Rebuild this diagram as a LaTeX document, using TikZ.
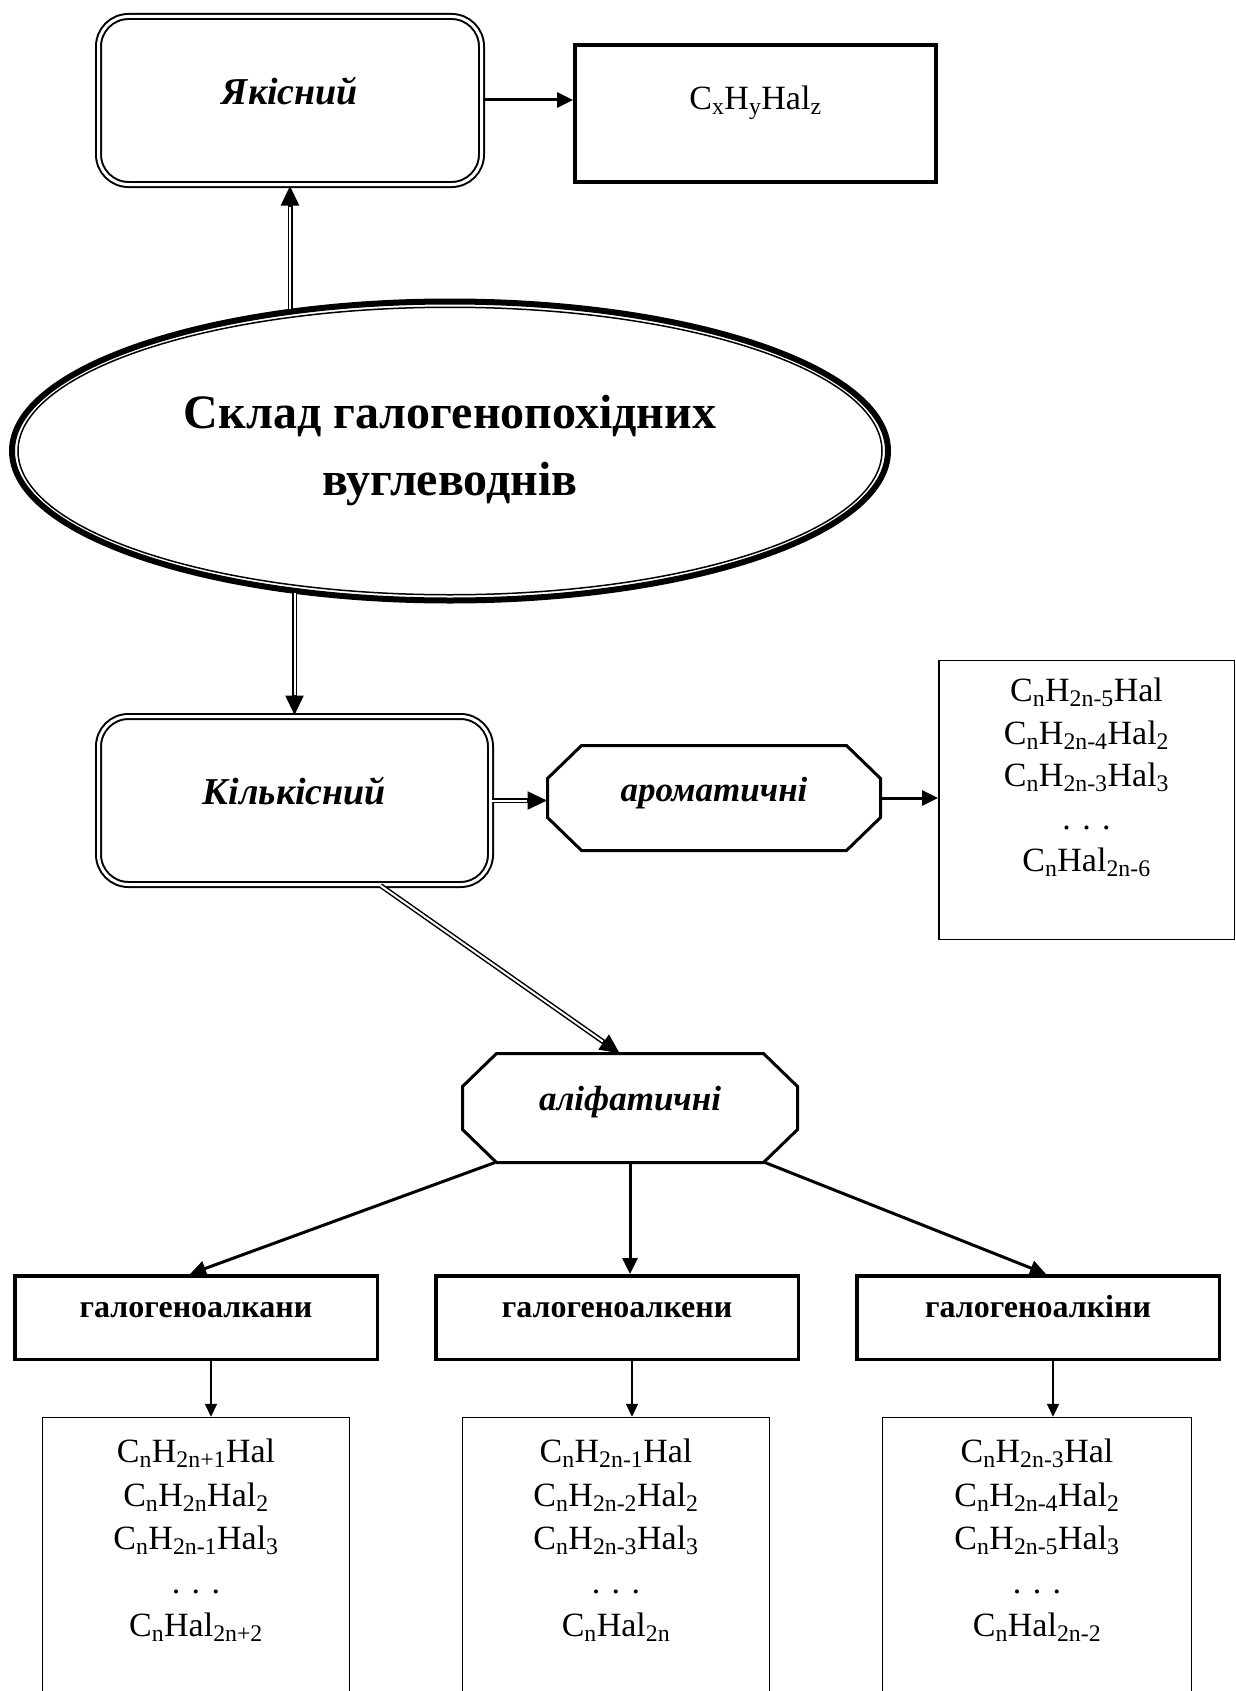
\RequirePackage{fix-cm}
\documentclass[tikz,border=0pt]{standalone}
\usepackage{fontspec}
\setmainfont{Liberation Serif}
\usetikzlibrary{arrows.meta,positioning,shapes.geometric}
\newcommand{\idx}[1]{\textsubscript{#1}}
\tikzset{dbox/.style={draw,rounded corners=30pt,double,double distance=3pt,line width=2pt,
        text height=24pt,text depth=16pt,font=\fontsize{38}{44}\selectfont\bfseries\itshape},
    oct/.style={inner sep=0pt,outer sep=0pt,text height=23pt,text depth=18pt,
        font=\fontsize{35}{40}\selectfont\bfseries\itshape},
    hbox/.style={draw,line width=3.5pt,minimum height=83.5pt,text height=22pt,text depth=22pt,
        font=\fontsize{32}{36}\selectfont\bfseries},
    lbox/.style={draw,line width=1.5pt},
    ltext/.style={align=center,inner sep=0pt,font=\fontsize{34}{43.5}\selectfont},
    % hollow shaft, solid head
    darr/.style={line width=5pt,-{Triangle[length=20pt,width=17pt]},
        postaction={draw=white,line width=2pt,-,shorten >=21pt}},
    arr/.style={line width=3pt,-{Triangle[length=16pt,width=15pt]}},
    sarr/.style={line width=2pt,-{Triangle[length=13pt,width=12pt]}}}
\begin{document}
\begin{tikzpicture}[x=1pt,y=-1pt]
    \path[use as bounding box,clip] (0,0) rectangle (1236,1691);
    % top part
    \node[dbox,minimum width=383pt,minimum height=168pt] (yak) at (290,100.5) {Якісний};
    \node[draw,line width=4pt,minimum width=361pt,minimum height=137pt,text height=24pt,text depth=32pt,
        font=\fontsize{34}{40}\selectfont] (cx) at (755.5,113.5) {C\idx{x}H\idx{y}Hal\idx{z}};
    \node[ellipse,draw,line width=6pt,minimum width=876pt,minimum height=299pt,align=center,
        font=\fontsize{48}{67}\selectfont\bfseries] (ell) at (450,451)
        {Склад галогенопохідних\\вуглеводнів};
    \draw[line width=1.5pt] (ell.center) ellipse [x radius=432pt,y radius=143.75pt];
    \node[dbox,minimum width=392pt,minimum height=168pt] (kil) at (294.5,800.5) {Кількісний};
    % octagons
    \node[oct,minimum width=333pt,minimum height=105pt,text depth=16pt] (arom) at (714,798) {ароматичні};
    \node[oct,minimum width=335pt,minimum height=109pt] (alif) at (630,1108) {аліфатичні};
    \foreach \n in {arom,alif}
      \draw[line width=3pt] ([xshift=34pt]\n.north west) -- ([xshift=-34pt]\n.north east)
        -- ([yshift=-33pt]\n.north east) -- ([yshift=33pt]\n.south east)
        -- ([xshift=-34pt]\n.south east) -- ([xshift=34pt]\n.south west)
        -- ([yshift=33pt]\n.south west) -- ([yshift=-33pt]\n.north west) -- cycle;
    \node[lbox,minimum width=295.5pt,minimum height=279pt] (arbox) at (1086.5,800) {};
    \node[ltext,font=\fontsize{34}{42.5}\selectfont,below=18pt of arbox.north] (artxt)
        {C\idx{n}H\idx{2n-5}Hal\\C\idx{n}H\idx{2n-4}Hal\idx{2}\\C\idx{n}H\idx{2n-3}Hal\idx{3}\\. . .\\C\idx{n}Hal\idx{2n-6}};
    % aliphatic branches
    \node[hbox,minimum width=362.5pt] (alk1) at (196,1317.5) {галогеноалкани};
    \node[hbox,minimum width=362.5pt] (alk2) at (617,1317.5) {галогеноалкени};
    \node[hbox,minimum width=362.5pt] (alk3) at (1038,1317.5) {галогеноалкіни};
    \node[lbox,anchor=north,minimum width=307pt,minimum height=320pt] (lst1) at (196,1416.75) {};
    \node[lbox,anchor=north,minimum width=307pt,minimum height=320pt] (lst2) at (616,1416.75) {};
    \node[lbox,anchor=north,minimum width=309pt,minimum height=320pt] (lst3) at (1037,1416.75) {};
    \node[ltext,below=22pt of lst1.north] (txt1)
        {C\idx{n}H\idx{2n+1}Hal\\C\idx{n}H\idx{2n}Hal\idx{2}\\C\idx{n}H\idx{2n-1}Hal\idx{3}\\. . .\\C\idx{n}Hal\idx{2n+2}};
    \node[ltext,below=22pt of lst2.north] (txt2)
        {C\idx{n}H\idx{2n-1}Hal\\C\idx{n}H\idx{2n-2}Hal\idx{2}\\C\idx{n}H\idx{2n-3}Hal\idx{3}\\. . .\\C\idx{n}Hal\idx{2n}};
    \node[ltext,below=22pt of lst3.north] (txt3)
        {C\idx{n}H\idx{2n-3}Hal\\C\idx{n}H\idx{2n-4}Hal\idx{2}\\C\idx{n}H\idx{2n-5}Hal\idx{3}\\. . .\\C\idx{n}Hal\idx{2n-2}};
    % connectors
    \draw[darr] (yak.south |- ell.138.2) -- (yak.south);
    \draw[arr] (yak.east |- 0,100) -- (cx.west |- 0,100);
    \draw[darr] (kil.north |- ell.221.8) -- (kil.north);
    \draw[darr] (kil.east) -- (arom.west |- kil.east);
    \draw[arr] (arom.east) -- (arbox.west |- arom.east);
    \draw[darr] ([xshift=86pt]kil.south) -- ([xshift=-10pt]alif.north);
    \draw[arr] ([xshift=-135pt]alif.south) -- ([xshift=-6pt]alk1.north);
    \draw[arr] (alif.south) -- (alif.south |- alk2.north);
    \draw[arr] ([xshift=135pt]alif.south) -- ([xshift=8pt]alk3.north);
    \foreach \a/\b in {alk1/lst1,alk2/lst2,alk3/lst3}
      \draw[sarr] ([xshift=15pt]\a.south) -- ([xshift=15pt]\a.south |- \b.north);
\end{tikzpicture}
\end{document}
